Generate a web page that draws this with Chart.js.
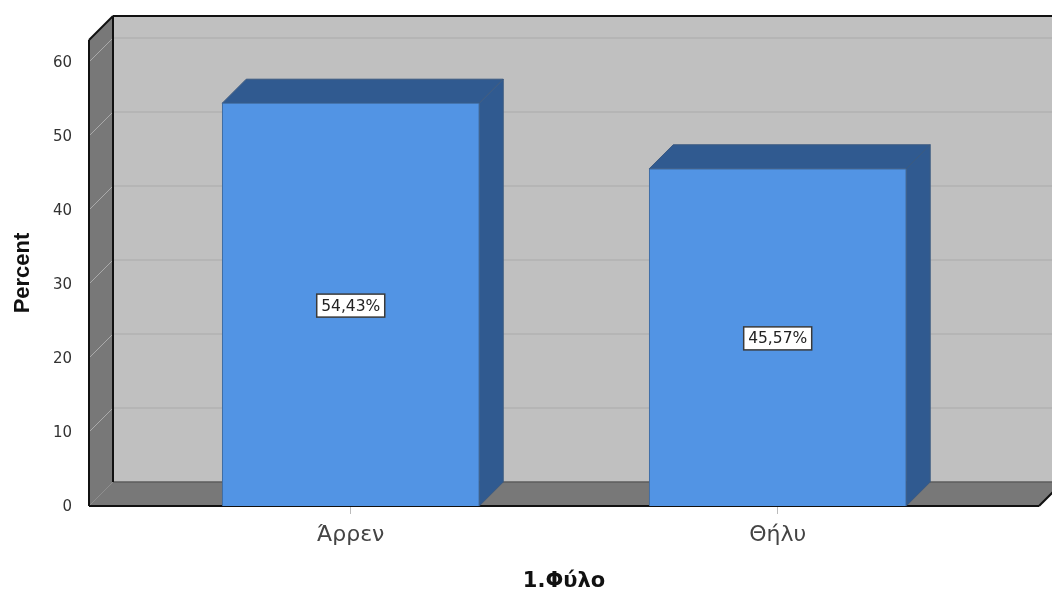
<!DOCTYPE html>
<html>
<head>
<meta charset="utf-8">
<style>
  html, body { margin: 0; padding: 0; background: #fff; overflow: hidden; }
  canvas { display: block; }
</style>
<script src="https://cdn.jsdelivr.net/npm/chart.js@4/dist/chart.umd.min.js"></script>
</head>
<body>
<canvas id="graph" width="1052" height="590"></canvas>
<script>
const categories = ['Άρρεν', 'Θήλυ'];
const percentValues = [54.43, 45.57];
const yTickValues = [0, 10, 20, 30, 40, 50, 60];

const xAxisTitle = '1.Φύλο';
const yAxisTitle = 'Percent';

// 奥行き
const DEPTH = 24;
const FONT = '"DejaVu Sans", sans-serif';
const TITLE_FONT = '"Liberation Sans", Arial, sans-serif';

function line(ctx, x1, y1, x2, y2, color, width) {
    ctx.beginPath();
    ctx.moveTo(x1, y1);
    ctx.lineTo(x2, y2);
    ctx.strokeStyle = color;
    ctx.lineWidth = width;
    ctx.stroke();
}

function poly(ctx, points, fill, stroke) {
    ctx.beginPath();
    points.forEach((p, i) => i === 0 ? ctx.moveTo(p[0], p[1]) : ctx.lineTo(p[0], p[1]));
    ctx.closePath();
    ctx.fillStyle = fill;
    ctx.fill();
    if (stroke) {
        ctx.strokeStyle = stroke;
        ctx.lineWidth = 1;
        ctx.stroke();
    }
}

// 背景の箱とバーの側面
const boxPlugin = {
    id: 'box',
    beforeDatasetsDraw(chart) {
        const ctx = chart.ctx;
        const { left, right, top, bottom } = chart.chartArea;
        const yScale = chart.scales.y;
        const d = DEPTH;

        ctx.save();
        poly(ctx, [[left + d, top - d], [right + d, top - d], [right + d, bottom - d], [left + d, bottom - d]], '#c0c0c0');
        poly(ctx, [[left, top], [left + d, top - d], [left + d, bottom - d], [left, bottom]], '#787878');
        poly(ctx, [[left, bottom], [left + d, bottom - d], [right + d, bottom - d], [right, bottom]], '#787878');

        // グリッド線
        yTickValues.forEach(v => {
            const y = yScale.getPixelForValue(v);
            if (v > 0) {
                line(ctx, left + d, y - d, right + d, y - d, '#b2b2b2', 1.5);
            }
            line(ctx, left, y, left + d, y - d, v > 0 ? '#ababab' : '#8e8e8e', 1);
        });

        line(ctx, left + d, bottom - d, right + d, bottom - d, '#5c5c5c', 1.5);
        line(ctx, left + d, top - d, left + d, bottom - d, '#111', 2);
        line(ctx, left, top, left, bottom, '#111', 2);
        line(ctx, left, top, left + d, top - d, '#111', 2);
        line(ctx, left + d, top - d, right + d, top - d, '#111', 2);
        line(ctx, left, bottom, right, bottom, '#111', 2);
        line(ctx, right, bottom, right + d, bottom - d, '#111', 2);

        chart.getDatasetMeta(0).data.forEach(bar => {
            const x0 = bar.x - bar.width / 2;
            const x1 = bar.x + bar.width / 2;
            poly(ctx, [[x0, bar.y], [x0 + d, bar.y - d], [x1 + d, bar.y - d], [x1, bar.y]], '#305a90', '#3c5a80');
            poly(ctx, [[x1, bar.y], [x1 + d, bar.y - d], [x1 + d, bar.base - d], [x1, bar.base]], '#305a90', '#3c5a80');
        });
        ctx.restore();
    },
    // 値ラベル
    afterDatasetsDraw(chart) {
        const ctx = chart.ctx;
        ctx.save();
        ctx.font = '15.5px ' + FONT;
        ctx.textAlign = 'center';
        ctx.textBaseline = 'middle';
        chart.getDatasetMeta(0).data.forEach((bar, i) => {
            const text = percentValues[i].toFixed(2).replace('.', ',') + '%';
            const w = 68;
            const cy = (bar.y + bar.base) / 2 + 1;
            ctx.fillStyle = '#fff';
            ctx.fillRect(bar.x - w / 2, cy - 11.5, w, 23);
            ctx.strokeStyle = '#3a3a3a';
            ctx.lineWidth = 1.5;
            ctx.strokeRect(bar.x - w / 2, cy - 11.5, w, 23);
            ctx.fillStyle = '#222';
            ctx.fillText(text, bar.x, cy + 1);
        });
        ctx.restore();
    }
};

new Chart(document.getElementById('graph'), {
    type: 'bar',
    data: {
        datasets: [{
            data: percentValues.map((v, i) => ({ x: i + 1, y: v })),
            backgroundColor: '#5294e4',
            borderColor: '#3f6a9e',
            borderWidth: 1,
            barThickness: 257
        }]
    },
    options: {
        responsive: false,
        animation: false,
        layout: { padding: { top: 40, right: 13, left: 0, bottom: 0 } },
        plugins: { legend: { display: false }, tooltip: { enabled: false } },
        scales: {
            x: {
                type: 'linear',
                offset: false,
                min: 0.387,
                max: 2.612,
                afterBuildTicks(scale) {
                    scale.ticks = categories.map((c, i) => ({ value: i + 1 }));
                },
                afterFit(scale) { scale.height = 84; },
                border: { display: false },
                grid: { offset: false, drawOnChartArea: false, color: '#bbb', tickLength: 8 },
                ticks: {
                    padding: 8,
                    color: '#444',
                    maxRotation: 0,
                    font: { family: FONT, size: 22 },
                    callback: v => categories[v - 1]
                },
                title: {
                    display: true,
                    text: xAxisTitle,
                    color: '#111',
                    padding: { top: 13, bottom: -4 },
                    font: { family: FONT, size: 21, weight: 'bold' }
                }
            },
            y: {
                min: 0,
                max: 62.97,
                afterBuildTicks(scale) {
                    scale.ticks = yTickValues.map(v => ({ value: v }));
                },
                afterFit(scale) { scale.width = 89; },
                border: { display: false },
                grid: { display: false },
                ticks: {
                    padding: 9,
                    labelOffset: 1.5,
                    color: '#333',
                    font: { family: FONT, size: 15 }
                },
                title: {
                    display: true,
                    text: yAxisTitle,
                    color: '#111',
                    padding: { top: 10, bottom: 0 },
                    font: { family: TITLE_FONT, size: 22, weight: 'bold' }
                }
            }
        }
    },
    plugins: [boxPlugin]
});
</script>
</body>
</html>
